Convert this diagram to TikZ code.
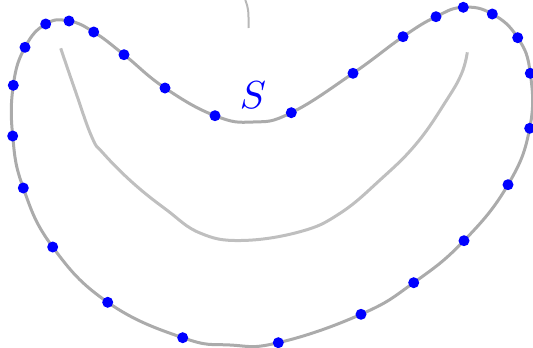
\documentclass[tikz,border=0pt]{standalone}
\usepackage{xcolor}
\usepackage{tikz}
\usepackage{amsmath}

\begin{document}
\begin{tikzpicture}[x=1pt,y=-1pt]
	\useasboundingbox (0,0) rectangle (533,348);
	% stub at the top
	\draw[line width=2pt,black!28] (245.3,0) .. controls (248.5,9) .. (248.6,28);
	% inner curve
	\draw[line width=3pt,black!25] plot[smooth,tension=0.7] coordinates {
		(60.7,48.3) (75,90) (91.7,136.7) (103,153) (133,183) (166.7,210)
		(200,233) (241,240.5) (300,231.7) (340,213.3) (380,180)
		(416.7,143.3) (446.7,100) (461.7,73.3) (467.3,52.3)};
	% outer curve S
	\draw[line width=3pt,black!33] plot[smooth cycle,tension=0.75] coordinates {
		(69,21) (93.7,32) (124,54.7) (165,88) (215,115.7) (253,122)
		(291.3,112.7) (353,73.3) (403,36.7) (436,16.7) (463.3,7.3)
		(492.3,14) (517.7,37.7) (530.3,73.3) (529.7,128.3) (508,184.7)
		(464,240.7) (413.7,282.7) (361,314.3) (278.3,342.7) (230,345)
		(182.7,337.7) (107.7,302.3) (52.7,247) (23.3,188) (12.7,136)
		(13.3,85.3) (25,47.3) (45.7,24)};
	\node[blue,scale=3.9] (S) at (253,95) {$S$};
	% sample points
	\foreach \p in {(69,21),(93.7,32),(124,54.7),(165,88),(215,115.7),
		(291.3,112.7),(353,73.3),(403,36.7),(436,16.7),(463.3,7.3),
		(492.3,14),(517.7,37.7),(530.3,73.3),(529.7,128.3),(508,184.7),
		(464,240.7),(413.7,282.7),(361,314.3),(278.3,342.7),(182.7,337.7),
		(107.7,302.3),(52.7,247),(23.3,188),(12.7,136),(13.3,85.3),
		(25,47.3),(45.7,24)}
		\fill[blue] \p circle (5.5);
\end{tikzpicture}
\end{document}
